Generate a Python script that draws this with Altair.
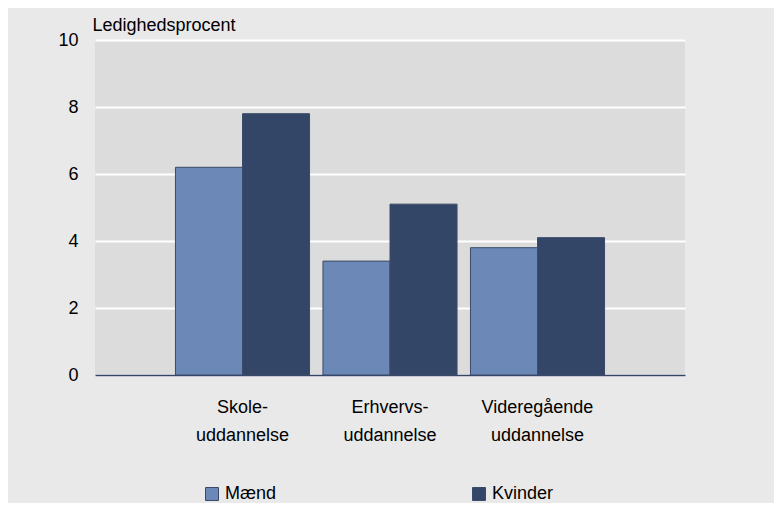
import altair as alt
import pandas as pd

categories = ["Skole- uddannelse", "Erhvervs- uddannelse", "Videregående uddannelse"]
groups = ["Mænd", "Kvinder"]
maend = [6.2, 3.4, 3.8]
kvinder = [7.8, 5.1, 4.1]
colors = ["#6c88b6", "#344668"]

rows = []
for c, m, k in zip(categories, maend, kvinder):
    rows.append({"kategori": c, "køn": "Mænd", "værdi": m})
    rows.append({"kategori": c, "køn": "Kvinder", "værdi": k})
df = pd.DataFrame(rows)

FONT = "Liberation Sans"

chart = alt.Chart(df).mark_bar(stroke="#3b4a68", strokeWidth=1).encode(
    x=alt.X("kategori:N", sort=categories,
            scale=alt.Scale(paddingInner=0, paddingOuter=0.5),
            axis=alt.Axis(title=None, labelAngle=0, ticks=False, domain=True,
                          domainColor="#344668", domainWidth=1.5,
                          labelExpr="split(datum.label, ' ')",
                          labelPadding=23, labelLineHeight=28,
                          labelFontSize=18, labelColor="#000000", labelFont=FONT)),
    xOffset=alt.XOffset("køn:N", sort=groups,
                        scale=alt.Scale(paddingInner=0, paddingOuter=0.1)),
    y=alt.Y("værdi:Q", scale=alt.Scale(domain=[0, 10]),
            axis=alt.Axis(values=[0, 2, 4, 6, 8, 10], title="Ledighedsprocent",
                          titleAngle=0, titleAlign="left", titleBaseline="alphabetic",
                          titleX=-3, titleY=-10, titleFontSize=18, titleFontWeight="normal",
                          titleFont=FONT, titleColor="#000000",
                          domain=False, ticks=False, labelPadding=17,
                          labelFontSize=18, labelFont=FONT, labelColor="#000000",
                          grid=True, gridColor="#ffffff", gridWidth=2)),
    color=alt.Color("køn:N", sort=groups,
                    scale=alt.Scale(domain=groups, range=colors),
                    legend=alt.Legend(title=None, orient="none", direction="horizontal",
                                      legendX=108, legendY=445, symbolType="square",
                                      symbolSize=169, symbolStrokeColor="#3b4a68",
                                      symbolStrokeWidth=1, columnPadding=193,
                                      labelFontSize=18, labelFont=FONT, labelColor="#000000",
                                      labelOffset=4, padding=0)),
).properties(
    width=590, height=335,
    background="#e9e9e9",
    padding={"left": 87, "top": 32, "right": 89, "bottom": 128},
    autosize=alt.AutoSizeParams(type="none"),
).configure_view(fill="#dcdcdc", stroke=None)

chart.save("out.html", embed_options={"renderer": "svg", "actions": False})
